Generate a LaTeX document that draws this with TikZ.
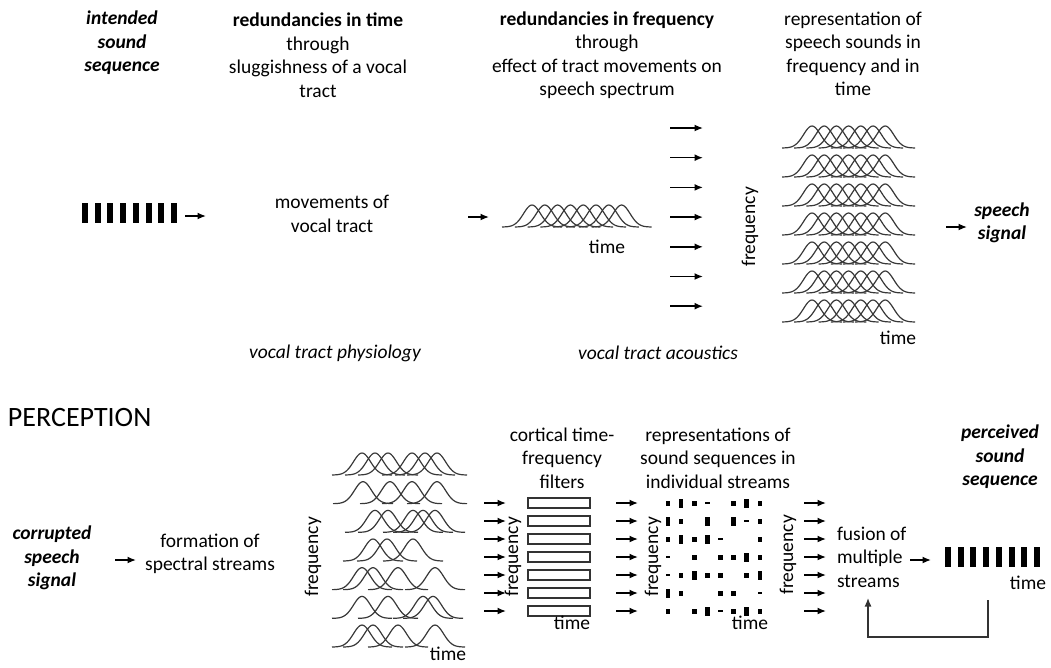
\documentclass[tikz,border=0pt]{standalone}
\usepackage{fontspec}
\setmainfont{Carlito}
\usetikzlibrary{arrows.meta}

% one bump of a spectral stream: peak, base line
\newcommand{\bump}[2]{\draw[wave] plot[domain=#1-30:#1+30, samples=41, smooth] (\x,{(#2)-22*exp(-((\x-(#1))/12)^2)});}

\begin{document}
\begin{tikzpicture}[x=1pt,y=-1pt]
\tikzset{ >={Latex[length=8.5pt,width=7pt]}, inner sep=0pt, outer sep=0pt,
  txt/.style={font=\fontsize{19.5}{23.5}\selectfont, align=center},
  key/.style={txt, font=\fontsize{19.5}{23.5}\selectfont\bfseries\itshape},
  vlab/.style={txt, rotate=90},
  arr/.style={->, line width=1.5pt},
  wave/.style={draw=black!78, line width=1.2pt},
  filt/.style={draw=black!80, line width=1.3pt, minimum width=62pt, minimum height=10pt},
}

\useasboundingbox (0,0) rectangle (1051,667);

%------------ production
\node [key] (intended) at (122,43) {intended\\sound\\sequence};
\node [txt] (redtime)  at (318,55) {\textbf{redundancies in time}\\through\\sluggishness of a vocal\\tract};
\node [txt] (redfreq)  at (607,55) {\textbf{redundancies in frequency}\\through\\effect of tract movements on\\speech spectrum};
\node [txt] (repr)     at (853,54) {representation of\\speech sounds in\\frequency and in\\time};

\foreach \i in {0,...,7}
  \fill (82+12.7*\i,203) rectangle ++(6,20);
\coordinate (a1) at (185,216);
\coordinate (a1e) at (206,216);
\draw [arr] (a1) -- (a1e);

\node [txt] (moves) at (332,214) {movements of\\vocal tract};

\coordinate (a2) at (468,217);
\coordinate (a2e) at (489,217);
\draw [arr] (a2) -- (a2e);

\foreach \i in {0,...,7} {
  \bump{532+12.8*\i}{227}
}
\node [txt] (time1) at (607,247) {time};

\foreach \i in {0,...,6} {
  \coordinate (fa\i) at (670,128+29.7*\i);
  \coordinate (fb\i) at (703,128+29.7*\i);
  \draw [arr] (fa\i) -- (fb\i);
}
\node [vlab] (freq1) at (750,227) {frequency};

\foreach \r in {0,...,6} {
  \foreach \i in {0,...,6} {
    \bump{812+12.2*\i}{148+29*\r}
  }
}
\node [txt] (time2) at (898,338) {time};

\coordinate (a3) at (946,227);
\coordinate (a3e) at (967,227);
\draw [arr] (a3) -- (a3e);
\node [key] (speech) at (1002,223) {speech\\signal};

\node [txt, font=\fontsize{19.5}{23.5}\selectfont\itshape] (physio)   at (335,353) {vocal tract physiology};
\node [txt, font=\fontsize{19.5}{23.5}\selectfont\itshape] (acoustic) at (658,353) {vocal tract acoustics};

%------------ perception
\node [anchor=west, font=\fontsize{28}{32}\selectfont] (percep) at (8,418) {PERCEPTION};

\node [key] (corrupt) at (52,558) {corrupted\\speech\\signal};
\coordinate (b1) at (115,560);
\coordinate (b1e) at (136,560);
\draw [arr] (b1) -- (b1e);
\node [txt] (formation) at (210,554) {formation of\\spectral streams};

\foreach \r/\pk in {0/{362,375,388,412,425,437}, 1/{363,390,412,437},
                    2/{375,388,413,423,435}, 3/{373,387,413},
                    4/{362,373,398,435}, 5/{362,388,423,433},
                    6/{362,373,398,435}} {
  \foreach \p in \pk {
    \bump{\p}{475+28.67*\r}
  }
}
\node [vlab] (freq2) at (313,557) {frequency};
\node [txt] (time3) at (448,654) {time};

\node [txt] (cortical) at (562,458) {cortical time-\\frequency\\filters};
\node [txt] (reprs)    at (718,458) {representations of\\sound sequences in\\individual streams};
\node [key] (perceived) at (1000,457) {perceived\\sound\\sequence};

\foreach \i in {0,...,6} {
  \coordinate (ca\i) at (484,503+18*\i);
  \coordinate (cb\i) at (506,503+18*\i);
  \draw [arr] (ca\i) -- (cb\i);
  \node [filt] (filt\i) at (559,503+18*\i) {};
  \coordinate (da\i) at (616,503+18*\i);
  \coordinate (db\i) at (638,503+18*\i);
  \draw [arr] (da\i) -- (db\i);
  \coordinate (ea\i) at (804,503+18*\i);
  \coordinate (eb\i) at (826,503+18*\i);
  \draw [arr] (ea\i) -- (eb\i);
}
\node [vlab] (freq3) at (513,557) {frequency};
\node [txt] (time4) at (572,623) {time};

% streams: column/row/height
\foreach \c/\r/\h in {0/0/5, 1/0/9, 2/0/5, 3/0/2, 5/0/5, 6/0/9, 7/0/5,
                      0/1/9, 1/1/5, 3/1/9, 5/1/9, 6/1/2, 7/1/5,
                      0/2/5, 1/2/9, 2/2/5, 3/2/9, 4/2/2, 7/2/5,
                      0/3/2, 2/3/5, 4/3/5, 5/3/5, 6/3/9, 7/3/5,
                      0/4/2, 1/4/5, 2/4/9, 3/4/5, 4/4/5, 6/4/5, 7/4/9,
                      0/5/9, 1/5/5, 4/5/5, 5/5/5, 7/5/2,
                      0/6/5, 2/6/5, 3/6/9, 4/6/2, 5/6/5, 6/6/9, 7/6/5}
  \fill (668+13.1*\c-2.2, 503+18*\r-\h/2) rectangle ++(4.5,\h);
\node [vlab] (freq4) at (653,557) {frequency};
\node [txt] (time5) at (750,623) {time};

\node [vlab] (freq5) at (788,555) {frequency};
\node [txt, align=left, anchor=west] (fusion) at (837,557) {fusion of\\multiple\\streams};

\coordinate (c1) at (910,560);
\coordinate (c1e) at (931,560);
\draw [arr] (c1) -- (c1e);

\foreach \i in {0,...,7}
  \fill (945+12.7*\i,547) rectangle ++(6,20);
\node [txt] (time6) at (1028,583) {time};

% feedback
\coordinate (fbs) at (988,600);
\coordinate (fbc) at (988,637);
\coordinate (fbe) at (868,598);
\draw [line width=1.3pt, black!80, ->] (fbs) -- (fbc) -| (fbe);

\end{tikzpicture}
\end{document}
